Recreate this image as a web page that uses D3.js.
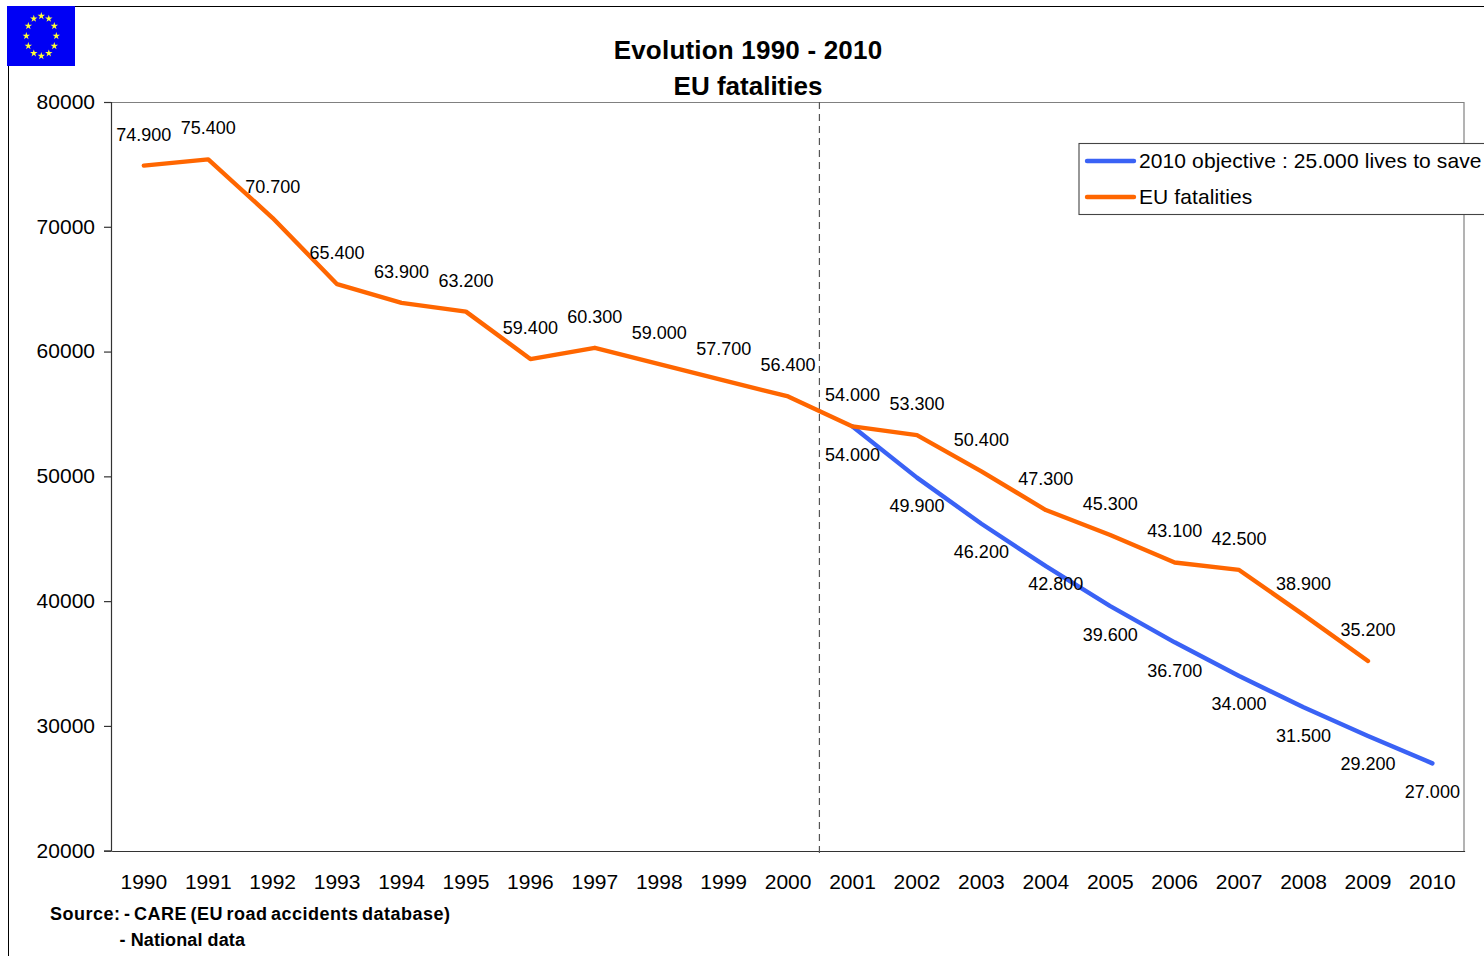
<!DOCTYPE html>
<html><head><meta charset="utf-8">
<script src="https://cdn.jsdelivr.net/npm/d3@7/dist/d3.min.js"></script>
<style>html,body{margin:0;padding:0;background:#fff}svg{display:block}text{font-family:"Liberation Sans",Arial,sans-serif;fill:#000}</style>
</head><body><svg id="c" width="1484" height="956"></svg>
<script>
const years = d3.range(1990, 2011).map(String);
const fatalitiesAll = [74900,75400,70700,65400,63900,63200,59400,60300,59000,57700,56400,54000,53300,50400,47300,45300,43100,42500,38900,35200];
const objectiveYears = ["2001","2002","2003","2004","2005","2006","2007","2008","2009","2010"];
const objective = [54000,49900,46200,42800,39600,36700,34000,31500,29200,27000];
const yTicks = [20000,30000,40000,50000,60000,70000,80000];
const titleLines = ["Evolution 1990 - 2010","EU fatalities"];
const legendLabels = ["2010 objective : 25.000 lives to save","EU fatalities"];
const BLUE="#3a62f5", ORANGE="#ff6600";

const svg=d3.select("#c");
const L=111,R=1464,T=102,B=851;
const x=d3.scaleBand().domain(years).range([L+.6,R+.6]);
const cx=d=>x(d)+x.bandwidth()/2;
const y=d3.scaleLinear().domain([20000,80000]).range([B-.3,T]);
const fmt=v=>d3.format(",")(v).replace(/,/g,".");

// outer frame
svg.append("line").attr("x1",8).attr("x2",1484).attr("y1",6.5).attr("y2",6.5).attr("stroke","#000").attr("stroke-width",1);
svg.append("line").attr("x1",8.5).attr("x2",8.5).attr("y1",6).attr("y2",956).attr("stroke","#000").attr("stroke-width",1);

// flag
svg.append("rect").attr("x",7).attr("y",6).attr("width",68).attr("height",60).attr("fill","#0000f5");
const star=d3.symbol().type(d3.symbolStar).size(17)();
svg.append("g").selectAll("path").data(d3.range(12)).join("path").attr("d",star).attr("fill","#ffff33")
  .attr("transform",d=>{const a=d*Math.PI/6;return `translate(${41.3+15*Math.sin(a)},${36-20*Math.cos(a)})`});

// plot frame
svg.append("line").attr("x1",L).attr("x2",R).attr("y1",T+.5).attr("y2",T+.5).attr("stroke","#808080").attr("stroke-width",1.2);
svg.append("line").attr("x1",R).attr("x2",R).attr("y1",T).attr("y2",B).attr("stroke","#808080").attr("stroke-width",1.2);

// axes
const gy=svg.append("g").attr("transform",`translate(${L},0)`)
  .call(d3.axisLeft(y).tickValues(yTicks).tickFormat(d3.format("d")).tickSize(7).tickPadding(9));
gy.selectAll("text").attr("font-size",21).attr("fill","#000").attr("font-family","Liberation Sans").attr("dy","0.3em");
gy.selectAll("line,path").attr("stroke","#333").attr("stroke-width",1.2);
const gx=svg.append("g").attr("transform",`translate(0,${B})`)
  .call(d3.axisBottom(x).tickSize(0).tickPadding(0));
gx.selectAll("text").attr("font-size",21).attr("fill","#000").attr("font-family","Liberation Sans").attr("y",23).attr("dy","0.71em");
gx.selectAll("path").attr("stroke","#333").attr("stroke-width",1.2);
gx.selectAll(".tick line").remove();

// divider
const divX=x("2001")-.9;
svg.append("line").attr("x1",divX).attr("x2",divX).attr("y1",T).attr("y2",B+7)
  .attr("stroke","#555").attr("stroke-width",1.2).attr("stroke-dasharray","7,5");

// lines
const line=d3.line().x(d=>cx(d.k)).y(d=>y(d.v));
const orange=fatalitiesAll.map((v,i)=>({k:years[i],v}));
const blue=objective.map((v,i)=>({k:objectiveYears[i],v}));
svg.append("path").datum(blue).attr("d",line).attr("fill","none").attr("stroke",BLUE).attr("stroke-width",4.4).attr("stroke-linecap","round").attr("stroke-linejoin","round");
svg.append("path").datum(orange).attr("d",line).attr("fill","none").attr("stroke",ORANGE).attr("stroke-width",4.4).attr("stroke-linecap","round").attr("stroke-linejoin","round");

// data labels
svg.append("g").selectAll("text").data(orange).join("text").attr("x",d=>cx(d.k)).attr("y",d=>y(d.v)-31.6).attr("dy","0.36em")
  .attr("text-anchor","middle").attr("font-size",18).text(d=>fmt(d.v));
svg.append("g").selectAll("text").data(blue).join("text")
  .attr("x",d=>cx(d.k)+(d.k==="2004"?10:0))
  .attr("y",d=>y(d.v)+(d.k==="2004"?17:28)).attr("dy","0.36em")
  .attr("text-anchor","middle").attr("font-size",18).text(d=>fmt(d.v));

// title
svg.append("g").selectAll("text").data(titleLines).join("text").attr("x",748).attr("y",(d,i)=>59+i*36)
  .attr("text-anchor","middle").attr("font-size",26).attr("font-weight","bold").attr("letter-spacing",(d,i)=>i?0:0.2).text(d=>d);

// legend
svg.append("rect").attr("x",1079).attr("y",143.5).attr("width",420).attr("height",71).attr("fill","#fff").attr("stroke","#444").attr("stroke-width",1.1);
const lg=svg.append("g").selectAll("g").data(legendLabels).join("g").attr("transform",(d,i)=>`translate(0,${161+i*36})`);
lg.append("line").attr("x1",1087).attr("x2",1134).attr("stroke",(d,i)=>i?ORANGE:BLUE).attr("stroke-width",4.4).attr("stroke-linecap","round");
lg.append("text").attr("x",1139).attr("dy","0.33em").attr("font-size",21).attr("letter-spacing",0.11).text(d=>d);

// source
svg.append("text").attr("x",50).attr("y",920).attr("font-size",18).attr("font-weight","bold").attr("letter-spacing",0.5).attr("word-spacing",-2).text("Source: - CARE (EU road accidents database)");
svg.append("text").attr("x",119.5).attr("y",946).attr("font-size",18).attr("font-weight","bold").attr("letter-spacing",0.1).text("- National data");
</script></body></html>
